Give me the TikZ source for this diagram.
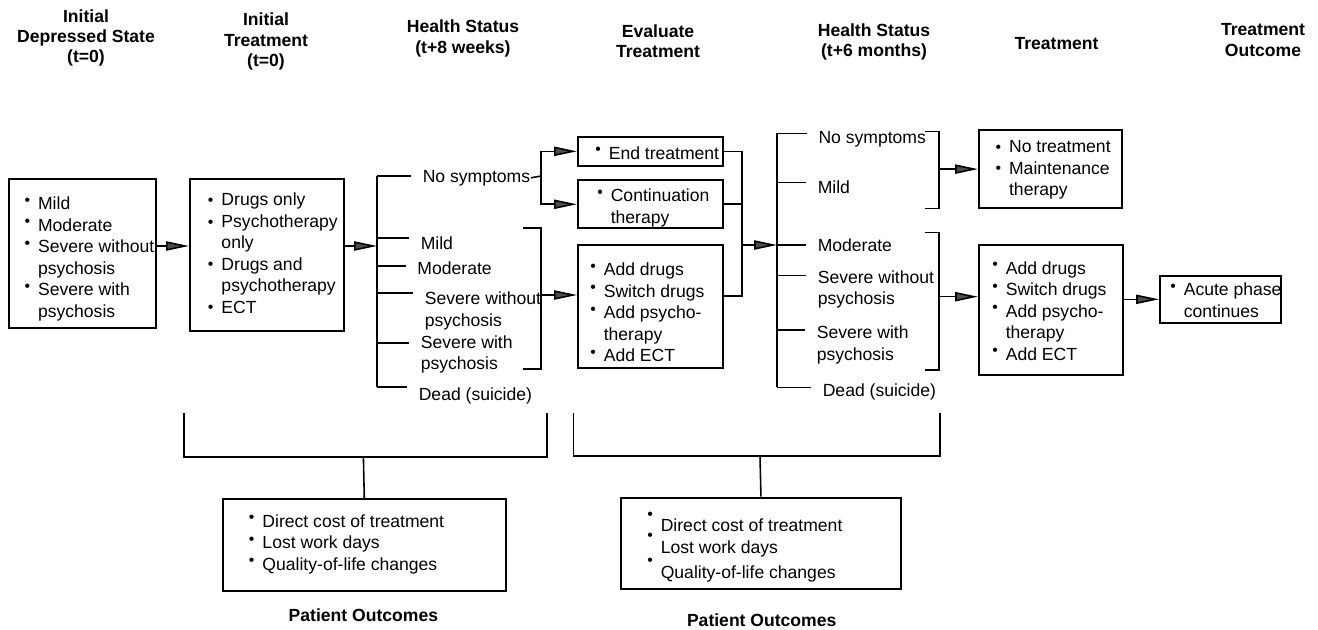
\documentclass[tikz,border=0pt]{standalone}
\usepackage{fontspec}
\setmainfont{Liberation Sans}
\usetikzlibrary{arrows.meta}

%% small dots in front of the list lines (raised, centred, and the high ones of the last box)
\newcommand\bul{\makebox[0.27cm][l]{\raisebox{2.5pt}{\fontsize{9}{9}\selectfont\textbullet}}}
\newcommand\bulc{\makebox[0.27cm][l]{\raisebox{0.2pt}{\fontsize{9}{9}\selectfont\textbullet}}}
\newcommand\bulhi{\makebox[0.27cm][l]{\raisebox{7pt}{\fontsize{9}{9}\selectfont\textbullet}}}
\newcommand\cont{\hspace*{0.27cm}}

\tikzset{
  head/.style={font=\bfseries\fontsize{10}{11.6}\selectfont, align=center, inner sep=0pt},
  box/.style={draw, line width=1.1pt, anchor=north west, inner sep=0pt},
  list/.style={anchor=north west, align=left, inner sep=0pt},
  lbl/.style={anchor=north west, align=left, inner sep=0pt},
  arr/.style={-{Triangle[length=13pt,width=5.2pt,fill=black!70]}},
  tick/.style={shorten >=0.22cm}
}

\begin{document}
\begin{tikzpicture}[x=0.02cm, y=-0.02cm, line width=0.9pt, font=\fontsize{10}{12.2}\selectfont]
        \useasboundingbox (0,0) rectangle (1318,629);
        %% column headings
        \node[head] (h1) at (86,38) {Initial\\Depressed State\\(t=0)};
        \node[head] (h2) at (266,41.7) {Initial\\Treatment\\(t=0)};
        \node[head] (h3) at (463,38.3) {Health Status\\(t+8 weeks)};
        \node[head] (h4) at (658,41.2) {Evaluate\\Treatment};
        \node[head] (h5) at (874,41.7) {Health Status\\(t+6 months)};
        \node[head] (h6) at (1056.5,43.3) {Treatment};
        \node[head] (h7) at (1263,40) {Treatment\\Outcome};

        %% the boxes, then their lists
        \node[box, minimum width=2.94cm, minimum height=2.98cm] (state0) at (8,178) {};
        \node[box, minimum width=3.08cm, minimum height=3.04cm] (treat0) at (189,178) {};
        \node[box, minimum width=2.9cm, minimum height=0.586cm] (endtx) at (577,135.7) {};
        \node[box, minimum width=2.9cm, minimum height=0.96cm] (contx) at (577,179.3) {};
        \node[box, minimum width=2.9cm, minimum height=2.454cm] (addtx) at (577,244) {};
        \node[box, minimum width=2.87cm, minimum height=1.566cm] (notx) at (978,129) {};
        \node[box, minimum width=2.88cm, minimum height=2.6cm] (addtx2) at (978,244) {};
        \node[box, minimum width=2.42cm, minimum height=0.934cm] (acute) at (1159,275) {};
        \node[box, minimum width=5.666cm, minimum height=1.834cm] (cost1) at (221.7,498.3) {};
        \node[box, minimum width=5.6cm, minimum height=1.832cm] (cost2) at (620,496.7) {};

        \node[list] (state0txt) at ([shift={(15.8,18.4)}]state0.north west)
            {\bul Mild\\ \bul Moderate\\ \bul Severe without\\ \cont psychosis\\ \bul Severe with\\ \cont psychosis};
        \node[list] (treat0txt) at ([shift={(18.2,14.4)}]treat0.north west)
            {\bulc Drugs only\\ \bulc Psychotherapy\\ \cont only\\ \bulc Drugs and\\ \cont psychotherapy\\ \bulc ECT};
        \node[list] (endtxtxt) at ([shift={(17.5,9.8)}]endtx.north west) {\bul End treatment};
        \node[list] (contxtxt) at ([shift={(19.5,8.8)}]contx.north west) {\bul Continuation\\ \cont therapy};
        \node[list] (addtxtxt) at ([shift={(12.5,18.4)}]addtx.north west)
            {\bul Add drugs\\ \bul Switch drugs\\ \bul Add psycho-\\ \cont therapy\\ \bul Add ECT};
        \node[list] (notxtxt) at ([shift={(16.8,10.8)}]notx.north west)
            {\bulc No treatment\\ \bulc Maintenance\\ \cont therapy};
        \node[list] (addtx2txt) at ([shift={(13.5,16.8)}]addtx2.north west)
            {\bul Add drugs\\ \bul Switch drugs\\ \bul Add psycho-\\ \cont therapy\\ \bul Add ECT};
        \node[list] (acutetxt) at ([shift={(10.5,7.4)}]acute.north west) {\bul Acute phase\\ \cont continues};
        \node[list] (cost1txt) at ([shift={(26.5,15.5)}]cost1.north west)
            {\bul Direct cost of treatment\\ \bul Lost work days\\ \bul Quality-of-life changes};
        \node[list] (cost2txt) at ([shift={(26.5,14.5)}]cost2.north west)
            {\bulhi Direct cost of treatment\\ \bulhi Lost work days\\ \bulhi Quality-of-life changes};

        %% health status after 8 weeks
        \node[lbl] (hs1none) at (422,169.2) {No symptoms};
        \node[lbl] (hs1mild) at (420,235.9) {Mild};
        \node[lbl] (hs1mod) at (416.7,261.2) {Moderate};
        \node[lbl] (hs1sev) at (424,291.2) {Severe without\\psychosis};
        \node[lbl] (hs1psy) at (420,334.9) {Severe with\\psychosis};
        \node[lbl] (hs1dead) at (418,387.2) {Dead (suicide)};
        %% health status after 6 months
        \node[lbl] (hs2none) at (817.7,130.5) {No symptoms};
        \node[lbl] (hs2mild) at (817,179.9) {Mild};
        \node[lbl] (hs2mod) at (817,238.2) {Moderate};
        \node[lbl] (hs2sev) at (817,269.9) {Severe without\\psychosis};
        \node[lbl] (hs2psy) at (816,325.2) {Severe with\\psychosis};
        \node[lbl] (hs2dead) at (822,383.2) {Dead (suicide)};

        %% the two spines with their ticks
        \foreach \n/\y in {none/176,mild/238,mod/266,sev/293,psy/343,dead/387}
            \coordinate (k1\n) at (377,\y);
        \foreach \n/\y in {none/133.3,mild/182.7,mod/245,sev/275.7,psy/330,dead/387.3}
            \coordinate (k2\n) at (777,\y);
        \draw (k1none) -- (k1dead);
        \draw (k2none) -- (k2dead);
        \foreach \n in {none,mild,mod,sev,psy,dead} {
            \draw[tick] (k1\n) -- (k1\n -| hs1\n.west);
            \draw[tick] (k2\n) -- (k2\n -| hs2\n.west);
        }

        %% first two arrows
        \coordinate (in1) at (377,246);
        \draw[arr] (state0.east |- in1) -- (in1 -| treat0.west);
        \draw[arr] (treat0.east |- in1) -- (in1);

        %% no symptoms splits, the rest goes to the add box
        \coordinate (s1) at (541,176);
        \draw (hs1none.east) -- (s1);
        \draw[arr] (s1) |- (endtx.west);
        \draw[arr] (s1) |- (contx.west);
        \coordinate (b1t) at (541,228);
        \coordinate (b1b) at (541,369);
        \draw ([xshift=-0.36cm]b1t) -- (b1t) -- (b1b) -- ([xshift=-0.36cm]b1b);
        \coordinate (b1o) at (541,295);
        \draw[arr] (b1o) -- (b1o -| addtx.west);

        %% evaluation boxes join again
        \coordinate (mbot) at (742,296);
        \draw (endtx.east) -| (mbot) -- (mbot -| addtx.east);
        \draw (contx.east) -- (contx.east -| mbot);
        \draw[arr] (mbot |- k2mod) -- (k2mod);

        %% brackets after 6 months
        \coordinate (b2t) at (939,131.7);
        \coordinate (b2b) at (939,208.3);
        \draw ([xshift=-0.28cm]b2t) -- (b2t) -- (b2b) -- ([xshift=-0.28cm]b2b);
        \draw[arr] (b2t |- notx.west) -- (notx.west);
        \coordinate (b3t) at (939,232.3);
        \coordinate (b3b) at (939,370);
        \draw ([xshift=-0.28cm]b3t) -- (b3t) -- (b3b) -- ([xshift=-0.28cm]b3b);
        \coordinate (b3o) at (939,296.7);
        \draw[arr] (b3o) -- (b3o -| addtx2.west);
        \draw[arr] (addtx2.east |- acute.west) -- (acute.west);

        %% patient outcome brackets at the bottom
        \coordinate (bl1) at (184,413);
        \coordinate (br1) at (547,413);
        \coordinate (j1) at (363.4,457);
        \draw (bl1) |- (j1) -| (br1);
        \draw (j1) -- (cost1.north);
        \coordinate (bl2) at (573.3,413);
        \coordinate (br2) at (940,413);
        \coordinate (j2) at (760,456);
        \draw (bl2) |- (j2) -| (br2);
        \draw (j2) -- (cost2.north);
        \node[head] (po1) at (363.4,615) {Patient Outcomes};
        \node[head] (po2) at (761.7,620) {Patient Outcomes};
\end{tikzpicture}
\end{document}
